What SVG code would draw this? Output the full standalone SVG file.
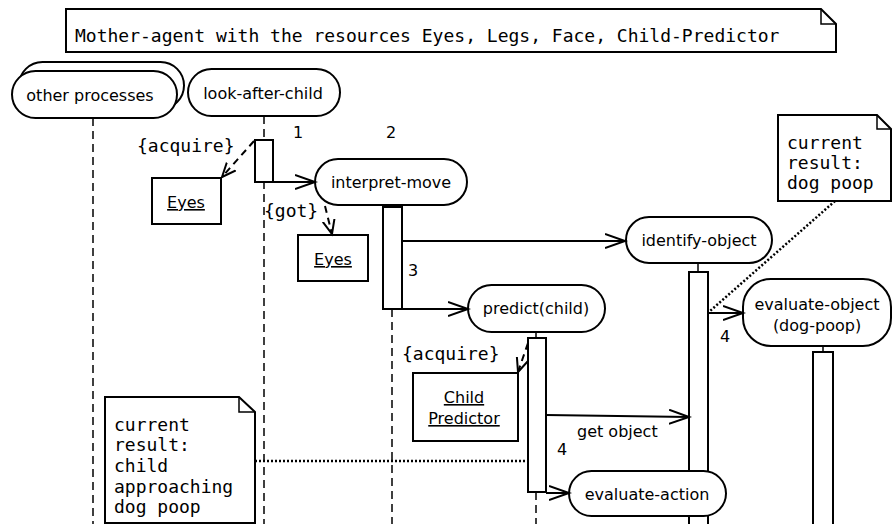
<svg xmlns="http://www.w3.org/2000/svg" width="892" height="524" viewBox="0 0 892 524">
<style>
.node{fill:#fff;stroke:#000;stroke-width:2}
.box{fill:#fff;stroke:#000;stroke-width:2}
.act{fill:#fff;stroke:#000;stroke-width:2}
.life{stroke:#000;stroke-width:1.5;stroke-dasharray:8 5;fill:none}
.msg{stroke:#000;stroke-width:2;fill:none;marker-end:url(#open)}
.dep{stroke:#000;stroke-width:2;fill:none;stroke-dasharray:7 5;marker-end:url(#dopen)}
.dot{stroke:#000;stroke-width:2.5;fill:none;stroke-dasharray:2 2}
.sans{font-family:"DejaVu Sans","Liberation Sans",sans-serif;font-size:16px;fill:#000}
.mono{font-family:"DejaVu Sans Mono","Liberation Mono",monospace;font-size:18px;fill:#000}
.mid{text-anchor:middle}
.ul{text-decoration:underline}
</style>
<defs>
<marker id="open" markerUnits="userSpaceOnUse" markerWidth="24" markerHeight="18" refX="20" refY="8" orient="auto">
<path d="M0,1 L20,8 L0,15" fill="none" stroke="#000" stroke-width="2"/>
</marker>
<marker id="dopen" markerUnits="userSpaceOnUse" markerWidth="18" markerHeight="16" refX="14" refY="7" orient="auto">
<path d="M0,1 L14,7 L0,13" fill="none" stroke="#000" stroke-width="2"/>
</marker>
</defs>
<rect width="892" height="524" fill="#fff"/>

<g id="title">
<path class="box" d="M66,9 H821 L836,24 V52 H66 Z"/>
<path d="M821,9 V24 H836" fill="none" stroke="#000" stroke-width="1.5"/>
<text class="mono" x="75" y="42">Mother-agent with the resources Eyes, Legs, Face, Child-Predictor</text>
</g>

<g id="lifelines">
<line class="life" x1="93" y1="118" x2="93" y2="524"/>
<line class="life" x1="264" y1="116" x2="264" y2="524"/>
<line class="life" x1="392" y1="309" x2="392" y2="524"/>
<line class="life" x1="536" y1="492" x2="536" y2="524"/>
<line stroke="#000" stroke-width="1.5" x1="698" y1="263" x2="698" y2="272"/>
<line stroke="#000" stroke-width="1.5" x1="536" y1="332" x2="536" y2="338"/>
<line stroke="#000" stroke-width="1.5" x1="823" y1="346" x2="823" y2="352"/>
</g>

<g id="other-processes">
<rect class="node" x="19" y="62" width="165" height="47" rx="23.5"/>
<rect class="node" x="12" y="71" width="165" height="47" rx="23.5"/>
<text class="sans mid" x="90" y="101">other processes</text>
</g>

<g id="look-after-child">
<rect class="node" x="188" y="69" width="152" height="47" rx="23.5"/>
<text class="sans mid" x="263" y="99">look-after-child</text>
</g>

<g id="interpret-move">
<rect class="node" x="315" y="159" width="152" height="46" rx="23"/>
<text class="sans mid" x="391" y="188">interpret-move</text>
</g>

<g id="identify-object">
<rect class="node" x="626" y="217" width="146" height="46" rx="23"/>
<text class="sans mid" x="699" y="246">identify-object</text>
</g>

<g id="predict-child">
<rect class="node" x="468" y="285" width="137" height="47" rx="23.5"/>
<text class="sans mid" x="536" y="314">predict(child)</text>
</g>

<g id="evaluate-object">
<rect class="node" x="743" y="279" width="148" height="67" rx="28"/>
<text class="sans mid" x="817" y="310">evaluate-object</text>
<text class="sans mid" x="817" y="331">(dog-poop)</text>
</g>

<g id="activations">
<rect class="act" x="255" y="140" width="18" height="42"/>
<rect class="act" x="383" y="207" width="19" height="102"/>
<rect class="act" x="689" y="272" width="19" height="262"/>
<rect class="act" x="528" y="338" width="18" height="154"/>
<rect class="act" x="813" y="352" width="20" height="182"/>
</g>

<g id="evaluate-action">
<rect class="node" x="569" y="471" width="157" height="45" rx="22.5"/>
<text class="sans mid" x="647" y="500">evaluate-action</text>
</g>

<g id="eyes-1">
<rect class="box" x="152" y="178" width="69" height="46"/>
<text class="sans mid ul" x="186" y="208">Eyes</text>
</g>

<g id="eyes-2">
<rect class="box" x="298" y="235" width="70" height="46"/>
<text class="sans mid ul" x="333" y="265">Eyes</text>
</g>

<g id="child-predictor">
<rect class="box" x="413" y="373" width="105" height="68"/>
<text class="sans mid ul" x="464" y="403">Child</text>
<text class="sans mid ul" x="464" y="424">Predictor</text>
</g>

<g id="note-dog-poop">
<path class="box" d="M778,115 H877 L891,129 V201 H778 Z"/>
<path d="M877,115 V129 H891" fill="none" stroke="#000" stroke-width="1.5"/>
<text class="mono" x="787" y="149">current</text>
<text class="mono" x="787" y="169">result:</text>
<text class="mono" x="787" y="189">dog poop</text>
</g>

<g id="note-child">
<path class="box" d="M105,397 H239 L255,412 V523 H105 Z"/>
<path d="M239,397 V412 H255" fill="none" stroke="#000" stroke-width="1.5"/>
<text class="mono" x="114" y="431">current</text>
<text class="mono" x="114" y="451">result:</text>
<text class="mono" x="114" y="472">child</text>
<text class="mono" x="114" y="493">approaching</text>
<text class="mono" x="114" y="513">dog poop</text>
</g>

<g id="connectors">
<line class="msg" x1="273" y1="182" x2="315" y2="182"/>
<line class="msg" x1="402" y1="241" x2="625" y2="241"/>
<line class="msg" x1="402" y1="309" x2="468" y2="309"/>
<line class="msg" x1="708" y1="313" x2="743" y2="313"/>
<line class="msg" x1="546" y1="415" x2="689" y2="417"/>
<line class="msg" x1="546" y1="493" x2="569" y2="493"/>
<line class="dep" x1="254" y1="141" x2="222" y2="177"/>
<line class="dep" x1="325" y1="206" x2="332" y2="234"/>
<line class="dep" x1="528" y1="343" x2="518" y2="372"/>
<line class="dot" x1="835" y1="201" x2="710" y2="311"/>
<line class="dot" x1="255" y1="461" x2="528" y2="461"/>
</g>

<g id="labels">
<text class="sans" x="293" y="138">1</text>
<text class="sans" x="386" y="138">2</text>
<text class="sans" x="408" y="276">3</text>
<text class="sans" x="720" y="342">4</text>
<text class="sans" x="557" y="455">4</text>
<text class="sans" x="577" y="437">get object</text>
<text class="mono" x="137" y="152">{acquire}</text>
<text class="mono" x="264" y="217">{got}</text>
<text class="mono" x="402" y="360">{acquire}</text>
</g>
</svg>
